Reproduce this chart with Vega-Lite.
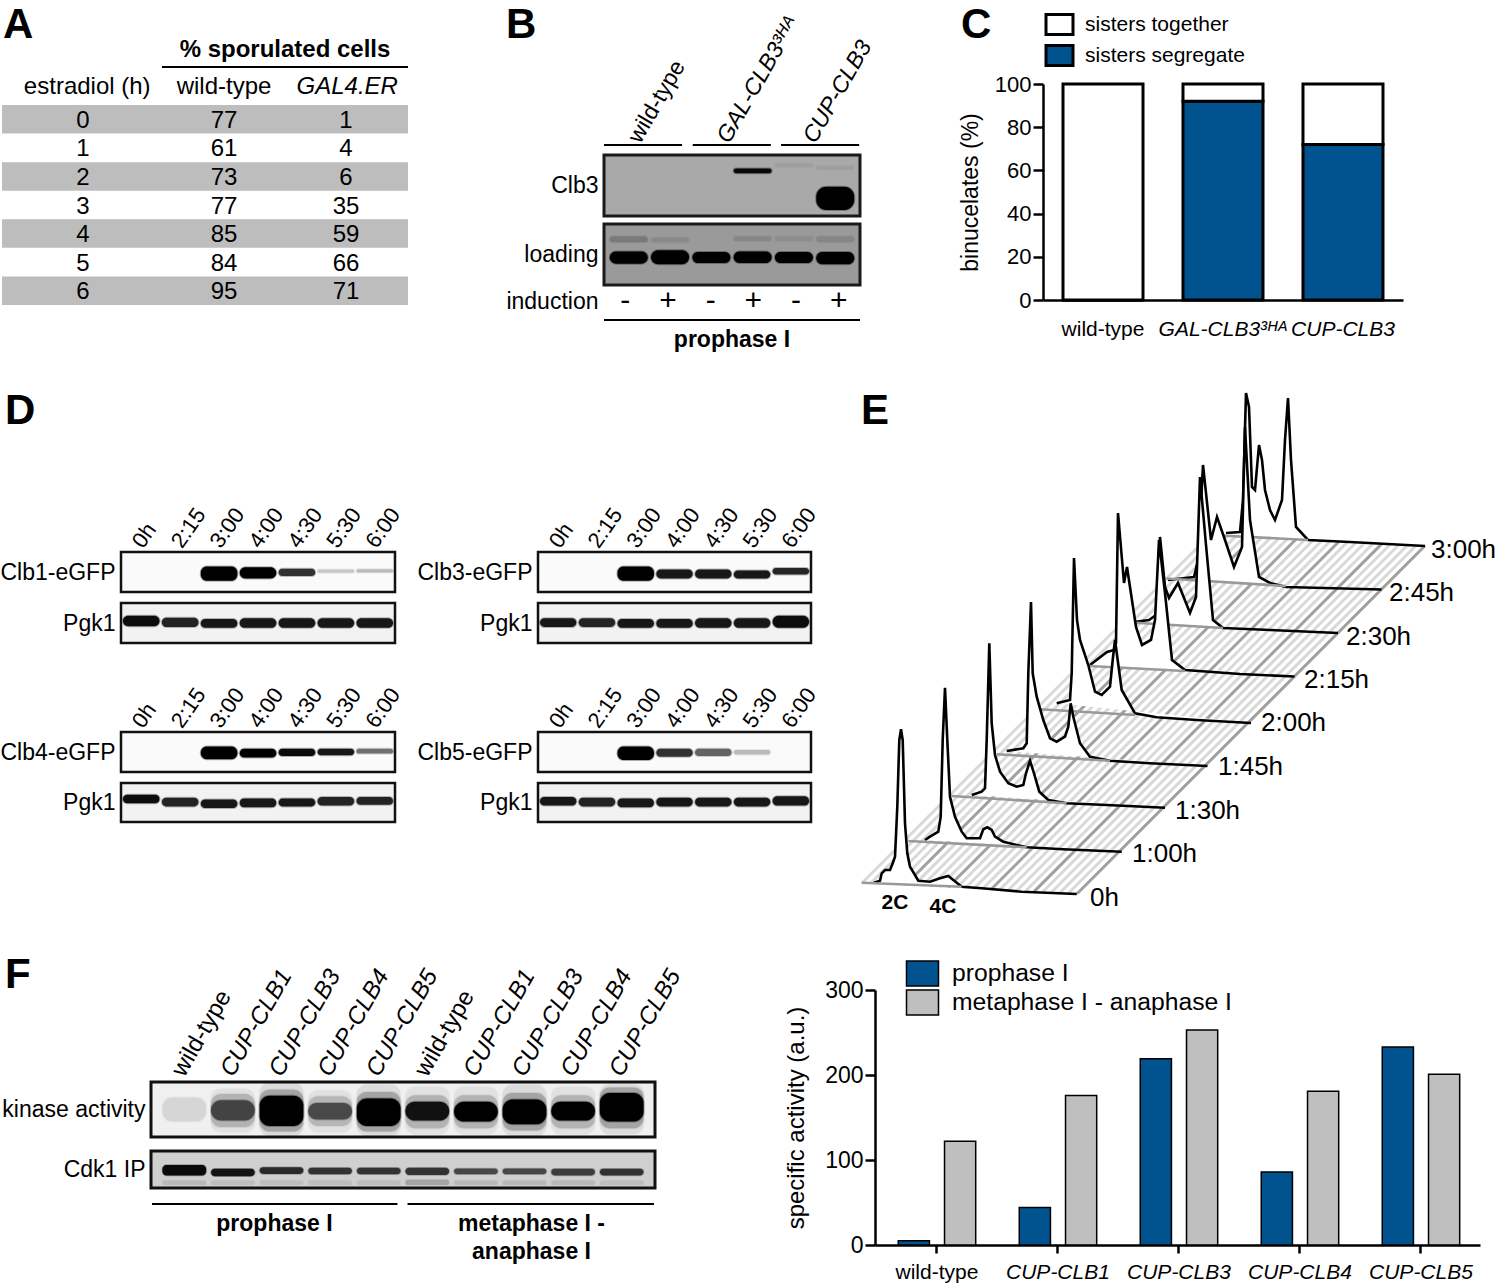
{"$schema":"https://vega.github.io/schema/vega-lite/v6.json","width":1500,"height":1287,"padding":0,"autosize":{"type":"none"},"background":"#ffffff",
"config":{"font":"Liberation Sans, DejaVu Sans","view":{"stroke":null},"axis":{"grid":false,"domain":false,"ticks":false,"labels":false,"labelColor":"#000","titleColor":"#000","titleFontWeight":"normal","domainColor":"#000","tickColor":"#000"},"axisTop":{"labels":true,"labelAngle":-55,"labelAlign":"left","labelBaseline":"middle","labelFontSize":22,"labelPadding":7,"labelOffset":-4},"text":{"color":"#000"}},
"resolve":{"scale":{"x":"independent","y":"independent","color":"independent","stroke":"independent","size":"independent"},"axis":{"x":"independent","y":"independent"},"legend":{"color":"independent"}},
"datasets":{"bands":[
{"track":"Clb1-eGFP","lane":"3:00","top":0.36,"bottom":0.72,"signal":1},{"track":"Clb1-eGFP","lane":"4:00","top":0.38,"bottom":0.66,"signal":1},{"track":"Clb1-eGFP","lane":"4:30","top":0.42,"bottom":0.6,"signal":0.8},{"track":"Clb1-eGFP","lane":"5:30","top":0.44,"bottom":0.52,"signal":0.2},{"track":"Clb1-eGFP","lane":"6:00","top":0.43,"bottom":0.51,"signal":0.25},
{"track":"Clb1-Pgk1","lane":"0h","top":0.32,"bottom":0.58,"signal":0.95},{"track":"Clb1-Pgk1","lane":"2:15","top":0.37,"bottom":0.6,"signal":0.85},{"track":"Clb1-Pgk1","lane":"3:00","top":0.4,"bottom":0.62,"signal":0.9},{"track":"Clb1-Pgk1","lane":"4:00","top":0.38,"bottom":0.62,"signal":0.9},{"track":"Clb1-Pgk1","lane":"4:30","top":0.38,"bottom":0.62,"signal":0.9},{"track":"Clb1-Pgk1","lane":"5:30","top":0.38,"bottom":0.62,"signal":0.9},{"track":"Clb1-Pgk1","lane":"6:00","top":0.38,"bottom":0.62,"signal":0.9},
{"track":"Clb3-eGFP","lane":"3:00","top":0.36,"bottom":0.72,"signal":1},{"track":"Clb3-eGFP","lane":"4:00","top":0.44,"bottom":0.66,"signal":0.9},{"track":"Clb3-eGFP","lane":"4:30","top":0.44,"bottom":0.66,"signal":0.9},{"track":"Clb3-eGFP","lane":"5:30","top":0.46,"bottom":0.66,"signal":0.9},{"track":"Clb3-eGFP","lane":"6:00","top":0.4,"bottom":0.56,"signal":0.85},
{"track":"Clb3-Pgk1","lane":"0h","top":0.38,"bottom":0.6,"signal":0.9},{"track":"Clb3-Pgk1","lane":"2:15","top":0.38,"bottom":0.6,"signal":0.85},{"track":"Clb3-Pgk1","lane":"3:00","top":0.4,"bottom":0.62,"signal":0.9},{"track":"Clb3-Pgk1","lane":"4:00","top":0.4,"bottom":0.62,"signal":0.9},{"track":"Clb3-Pgk1","lane":"4:30","top":0.38,"bottom":0.62,"signal":0.9},{"track":"Clb3-Pgk1","lane":"5:30","top":0.38,"bottom":0.62,"signal":0.9},{"track":"Clb3-Pgk1","lane":"6:00","top":0.32,"bottom":0.62,"signal":0.95},
{"track":"Clb4-eGFP","lane":"3:00","top":0.36,"bottom":0.68,"signal":1},{"track":"Clb4-eGFP","lane":"4:00","top":0.42,"bottom":0.64,"signal":1},{"track":"Clb4-eGFP","lane":"4:30","top":0.42,"bottom":0.6,"signal":0.95},{"track":"Clb4-eGFP","lane":"5:30","top":0.42,"bottom":0.58,"signal":0.9},{"track":"Clb4-eGFP","lane":"6:00","top":0.42,"bottom":0.54,"signal":0.55},
{"track":"Clb4-Pgk1","lane":"0h","top":0.3,"bottom":0.52,"signal":0.95},{"track":"Clb4-Pgk1","lane":"2:15","top":0.38,"bottom":0.6,"signal":0.85},{"track":"Clb4-Pgk1","lane":"3:00","top":0.42,"bottom":0.64,"signal":0.9},{"track":"Clb4-Pgk1","lane":"4:00","top":0.4,"bottom":0.62,"signal":0.9},{"track":"Clb4-Pgk1","lane":"4:30","top":0.4,"bottom":0.6,"signal":0.9},{"track":"Clb4-Pgk1","lane":"5:30","top":0.36,"bottom":0.58,"signal":0.85},{"track":"Clb4-Pgk1","lane":"6:00","top":0.36,"bottom":0.56,"signal":0.85},
{"track":"Clb5-eGFP","lane":"3:00","top":0.36,"bottom":0.7,"signal":1},{"track":"Clb5-eGFP","lane":"4:00","top":0.42,"bottom":0.62,"signal":0.8},{"track":"Clb5-eGFP","lane":"4:30","top":0.42,"bottom":0.6,"signal":0.6},{"track":"Clb5-eGFP","lane":"5:30","top":0.45,"bottom":0.56,"signal":0.25},
{"track":"Clb5-Pgk1","lane":"0h","top":0.36,"bottom":0.58,"signal":0.9},{"track":"Clb5-Pgk1","lane":"2:15","top":0.38,"bottom":0.6,"signal":0.85},{"track":"Clb5-Pgk1","lane":"3:00","top":0.4,"bottom":0.62,"signal":0.9},{"track":"Clb5-Pgk1","lane":"4:00","top":0.38,"bottom":0.6,"signal":0.9},{"track":"Clb5-Pgk1","lane":"4:30","top":0.38,"bottom":0.6,"signal":0.9},{"track":"Clb5-Pgk1","lane":"5:30","top":0.38,"bottom":0.6,"signal":0.9},{"track":"Clb5-Pgk1","lane":"6:00","top":0.34,"bottom":0.58,"signal":0.9},
{"track":"B-Clb3","lane":4,"top":0.22,"bottom":0.3,"signal":0.95},{"track":"B-Clb3","lane":6,"top":0.52,"bottom":0.9,"signal":1},{"track":"B-Clb3","lane":5,"top":0.14,"bottom":0.2,"signal":0.06},{"track":"B-Clb3","lane":6,"top":0.18,"bottom":0.24,"signal":0.06},
{"track":"B-loading","lane":1,"top":0.2,"bottom":0.3,"signal":0.2},{"track":"B-loading","lane":2,"top":0.22,"bottom":0.3,"signal":0.1},{"track":"B-loading","lane":4,"top":0.2,"bottom":0.28,"signal":0.12},{"track":"B-loading","lane":5,"top":0.2,"bottom":0.28,"signal":0.08},{"track":"B-loading","lane":6,"top":0.2,"bottom":0.3,"signal":0.12},
{"track":"B-loading","lane":1,"top":0.45,"bottom":0.65,"signal":1},{"track":"B-loading","lane":2,"top":0.43,"bottom":0.66,"signal":1},{"track":"B-loading","lane":3,"top":0.46,"bottom":0.64,"signal":1},{"track":"B-loading","lane":4,"top":0.45,"bottom":0.64,"signal":1},{"track":"B-loading","lane":5,"top":0.46,"bottom":0.64,"signal":1},{"track":"B-loading","lane":6,"top":0.46,"bottom":0.66,"signal":1},
{"track":"kinase","lane":2,"top":0.12,"bottom":0.92,"signal":0.06},{"track":"kinase","lane":3,"top":0.02,"bottom":0.98,"signal":0.08},{"track":"kinase","lane":4,"top":0.15,"bottom":0.92,"signal":0.06},{"track":"kinase","lane":5,"top":0.05,"bottom":0.98,"signal":0.08},{"track":"kinase","lane":6,"top":0.08,"bottom":0.95,"signal":0.06},{"track":"kinase","lane":7,"top":0.08,"bottom":0.95,"signal":0.06},{"track":"kinase","lane":8,"top":0.05,"bottom":0.98,"signal":0.08},{"track":"kinase","lane":9,"top":0.08,"bottom":0.95,"signal":0.06},{"track":"kinase","lane":10,"top":0.04,"bottom":0.95,"signal":0.08},
{"track":"kinase","lane":2,"top":0.22,"bottom":0.82,"signal":0.2},{"track":"kinase","lane":3,"top":0.14,"bottom":0.9,"signal":0.25},{"track":"kinase","lane":4,"top":0.26,"bottom":0.8,"signal":0.18},{"track":"kinase","lane":5,"top":0.18,"bottom":0.9,"signal":0.25},{"track":"kinase","lane":6,"top":0.24,"bottom":0.84,"signal":0.2},{"track":"kinase","lane":7,"top":0.24,"bottom":0.84,"signal":0.2},{"track":"kinase","lane":8,"top":0.2,"bottom":0.88,"signal":0.25},{"track":"kinase","lane":9,"top":0.24,"bottom":0.84,"signal":0.2},{"track":"kinase","lane":10,"top":0.1,"bottom":0.84,"signal":0.25},
{"track":"kinase","lane":1,"top":0.28,"bottom":0.72,"signal":0.1},{"track":"kinase","lane":2,"top":0.33,"bottom":0.7,"signal":0.62},{"track":"kinase","lane":3,"top":0.25,"bottom":0.8,"signal":1},{"track":"kinase","lane":4,"top":0.38,"bottom":0.68,"signal":0.6},{"track":"kinase","lane":5,"top":0.3,"bottom":0.8,"signal":1},{"track":"kinase","lane":6,"top":0.36,"bottom":0.7,"signal":0.9},{"track":"kinase","lane":7,"top":0.36,"bottom":0.72,"signal":1},{"track":"kinase","lane":8,"top":0.32,"bottom":0.77,"signal":1},{"track":"kinase","lane":9,"top":0.36,"bottom":0.7,"signal":1},{"track":"kinase","lane":10,"top":0.2,"bottom":0.72,"signal":1},
{"track":"cdk1","lane":1,"top":0.38,"bottom":0.66,"signal":0.95},{"track":"cdk1","lane":2,"top":0.48,"bottom":0.68,"signal":0.9},{"track":"cdk1","lane":3,"top":0.44,"bottom":0.62,"signal":0.8},{"track":"cdk1","lane":4,"top":0.45,"bottom":0.63,"signal":0.75},{"track":"cdk1","lane":5,"top":0.45,"bottom":0.63,"signal":0.75},{"track":"cdk1","lane":6,"top":0.45,"bottom":0.65,"signal":0.75},{"track":"cdk1","lane":7,"top":0.47,"bottom":0.63,"signal":0.65},{"track":"cdk1","lane":8,"top":0.47,"bottom":0.63,"signal":0.65},{"track":"cdk1","lane":9,"top":0.48,"bottom":0.66,"signal":0.7},{"track":"cdk1","lane":10,"top":0.48,"bottom":0.66,"signal":0.75},
{"track":"cdk1","lane":1,"top":0.8,"bottom":0.92,"signal":0.1},{"track":"cdk1","lane":2,"top":0.8,"bottom":0.92,"signal":0.08},{"track":"cdk1","lane":3,"top":0.8,"bottom":0.92,"signal":0.08},{"track":"cdk1","lane":4,"top":0.8,"bottom":0.92,"signal":0.08},{"track":"cdk1","lane":5,"top":0.8,"bottom":0.92,"signal":0.08},{"track":"cdk1","lane":6,"top":0.78,"bottom":0.92,"signal":0.2},{"track":"cdk1","lane":7,"top":0.8,"bottom":0.92,"signal":0.1},{"track":"cdk1","lane":8,"top":0.8,"bottom":0.92,"signal":0.1},{"track":"cdk1","lane":9,"top":0.8,"bottom":0.92,"signal":0.1},{"track":"cdk1","lane":10,"top":0.8,"bottom":0.92,"signal":0.08}
]},
"layer":[
{"data":{"values":[{"row":"0"},{"row":"2"},{"row":"4"},{"row":"6"}]},"mark":{"type":"rect","fill":"#bdbdbd"},"encoding":{"x":{"datum":0,"type":"quantitative","scale":{"domain":[0,1],"range":[2,408]},"axis":null},"x2":{"datum":1},"y":{"field":"row","type":"nominal","scale":{"type":"band","domain":["0","1","2","3","4","5","6"],"range":[105,305],"padding":0},"axis":null}}},
{"data":{"values":[{"row":"0","col":0,"val":"0"},{"row":"0","col":1,"val":"77"},{"row":"0","col":2,"val":"1"},{"row":"1","col":0,"val":"1"},{"row":"1","col":1,"val":"61"},{"row":"1","col":2,"val":"4"},{"row":"2","col":0,"val":"2"},{"row":"2","col":1,"val":"73"},{"row":"2","col":2,"val":"6"},{"row":"3","col":0,"val":"3"},{"row":"3","col":1,"val":"77"},{"row":"3","col":2,"val":"35"},{"row":"4","col":0,"val":"4"},{"row":"4","col":1,"val":"85"},{"row":"4","col":2,"val":"59"},{"row":"5","col":0,"val":"5"},{"row":"5","col":1,"val":"84"},{"row":"5","col":2,"val":"66"},{"row":"6","col":0,"val":"6"},{"row":"6","col":1,"val":"95"},{"row":"6","col":2,"val":"71"}]},"mark":{"type":"text","fontSize":24,"dy":1.5},"encoding":{"x":{"field":"col","type":"quantitative","scale":{"domain":[0,1,2],"range":[83,224,346]},"axis":null},"y":{"field":"row","type":"nominal","scale":{"type":"band","domain":["0","1","2","3","4","5","6"],"range":[105,305],"padding":0},"axis":null},"text":{"field":"val"}}},
{"data":{"values":[{"label":"% sporulated cells","col":1.5,"end":1.5,"level":0,"kind":"bold"},{"label":"estradiol (h)","col":0.03,"end":0.03,"level":1,"kind":"plain"},{"label":"wild-type","col":1,"end":1,"level":1,"kind":"plain"},{"label":"GAL4.ER","col":2.01,"end":2.01,"level":1,"kind":"italic"},{"label":"","col":0.56,"end":2.508,"level":0.486,"kind":"rule"}]},"encoding":{"x":{"field":"col","type":"quantitative","scale":{"domain":[0,1,2],"range":[83,224,346]},"axis":null},"y":{"field":"level","type":"quantitative","scale":{"domain":[0,1],"range":[49,86]},"axis":null}},"layer":[
{"transform":[{"filter":"datum.kind=='bold'"}],"mark":{"type":"text","fontSize":24,"fontWeight":"bold","dy":1},"encoding":{"text":{"field":"label"}}},
{"transform":[{"filter":"datum.kind=='plain'"}],"mark":{"type":"text","fontSize":24,"dy":1},"encoding":{"text":{"field":"label"}}},
{"transform":[{"filter":"datum.kind=='italic'"}],"mark":{"type":"text","fontSize":24,"fontStyle":"italic","dy":1},"encoding":{"text":{"field":"label"}}},
{"transform":[{"filter":"datum.kind=='rule'"}],"mark":{"type":"rule","color":"#000","strokeWidth":2},"encoding":{"x2":{"field":"end"}}}]},

{"data":{"values":[{"group":"wild-type","pos":0.87,"from":0,"to":1.83},{"group":"GAL-CLB3³ᴴᴬ","pos":2.95,"from":2.08,"to":3.91},{"group":"CUP-CLB3","pos":4.97,"from":4.15,"to":5.98}]},"encoding":{"x":{"field":"from","type":"quantitative","scale":{"domain":[0,6],"range":[604,860]},"axis":null},"y":{"datum":0,"type":"quantitative","scale":{"domain":[0,1],"range":[145,146]},"axis":null}},"layer":[
{"mark":{"type":"rule","color":"#000","strokeWidth":2},"encoding":{"x2":{"field":"to"}}},
{"transform":[{"filter":"datum.group=='wild-type'"}],"mark":{"type":"text","fontSize":23,"angle":-60,"align":"left","baseline":"middle","dy":-8},"encoding":{"x":{"field":"pos","type":"quantitative","scale":{"domain":[0,6],"range":[604,860]},"axis":null},"text":{"field":"group"}}},
{"transform":[{"filter":"datum.group!='wild-type'"}],"mark":{"type":"text","fontSize":23,"fontStyle":"italic","angle":-60,"align":"left","baseline":"middle","dy":-8},"encoding":{"x":{"field":"pos","type":"quantitative","scale":{"domain":[0,6],"range":[604,860]},"axis":null},"text":{"field":"group"}}}]},
{"data":{"values":[{"track":"Clb3"}]},"mark":{"type":"rect","fill":"#a9a9a9","stroke":"#1a1a1a","strokeWidth":3},"encoding":{"x":{"datum":0,"type":"quantitative","scale":{"domain":[0,1],"range":[604,860]},"axis":null},"x2":{"datum":1},"y":{"datum":0,"type":"quantitative","scale":{"domain":[0,1],"range":[155,216]},"axis":{"orient":"left","offset":-604,"title":"Clb3","titleAngle":0,"titleAlign":"right","titleBaseline":"middle","titlePadding":6,"titleFontSize":23}},"y2":{"datum":1}}},
{"data":{"name":"bands"},"transform":[{"filter":"datum.track=='B-Clb3'"}],"mark":{"type":"bar","fill":"#000","stroke":"#000","strokeWidth":2,"strokeOpacity":0.3,"cornerRadius":10},"encoding":{"x":{"field":"lane","type":"nominal","scale":{"domain":[1,2,3,4,5,6],"range":[604,860],"paddingInner":0.08,"paddingOuter":0.14},"axis":null},"y":{"field":"top","type":"quantitative","scale":{"domain":[0,1],"range":[155,216]},"axis":null},"y2":{"field":"bottom"},"opacity":{"field":"signal","type":"quantitative","scale":null}}},
{"data":{"values":[{"track":"loading"}]},"mark":{"type":"rect","fill":"#9a9a9a","stroke":"#1a1a1a","strokeWidth":3},"encoding":{"x":{"datum":0,"type":"quantitative","scale":{"domain":[0,1],"range":[604,860]},"axis":null},"x2":{"datum":1},"y":{"datum":0,"type":"quantitative","scale":{"domain":[0,1],"range":[224,285]},"axis":{"orient":"left","offset":-604,"title":"loading","titleAngle":0,"titleAlign":"right","titleBaseline":"middle","titlePadding":6,"titleFontSize":23}},"y2":{"datum":1}}},
{"data":{"name":"bands"},"transform":[{"filter":"datum.track=='B-loading'"}],"mark":{"type":"bar","fill":"#000","stroke":"#000","strokeWidth":2,"strokeOpacity":0.3,"cornerRadius":8},"encoding":{"x":{"field":"lane","type":"nominal","scale":{"domain":[1,2,3,4,5,6],"range":[604,860],"paddingInner":0.08,"paddingOuter":0.14},"axis":null},"y":{"field":"top","type":"quantitative","scale":{"domain":[0,1],"range":[224,285]},"axis":null},"y2":{"field":"bottom"},"opacity":{"field":"signal","type":"quantitative","scale":null}}},
{"data":{"values":[{"lane":1,"sign":"-"},{"lane":2,"sign":"+"},{"lane":3,"sign":"-"},{"lane":4,"sign":"+"},{"lane":5,"sign":"-"},{"lane":6,"sign":"+"}]},"mark":{"type":"text","fontSize":30},"encoding":{"x":{"field":"lane","type":"nominal","scale":{"domain":[1,2,3,4,5,6],"range":[604,860],"paddingInner":0.08,"paddingOuter":0.14},"axis":null},"y":{"datum":0.5,"type":"quantitative","scale":{"domain":[0,1],"range":[291,311]},"axis":{"orient":"left","offset":-604,"title":"induction","titleAngle":0,"titleAlign":"right","titleBaseline":"middle","titlePadding":6,"titleFontSize":23}},"text":{"field":"sign"}}},
{"data":{"values":[{"stage":"prophase I"}]},"encoding":{"x":{"datum":0.5,"type":"quantitative","scale":{"domain":[0,1],"range":[604,860]},"axis":null},"y":{"datum":0,"type":"quantitative","scale":{"domain":[0,1],"range":[320,340]},"axis":null}},"layer":[
{"mark":{"type":"rule","color":"#000","strokeWidth":2},"encoding":{"x":{"datum":0,"type":"quantitative","scale":{"domain":[0,1],"range":[604,860]},"axis":null},"x2":{"datum":1}}},
{"mark":{"type":"text","fontSize":23,"fontWeight":"bold"},"encoding":{"y":{"datum":1,"type":"quantitative","scale":{"domain":[0,1],"range":[320,340]},"axis":null},"text":{"field":"stage"}}}]},

{"data":{"values":[{"genotype":"wild-type","status":"sisters segregate","pct":0,"rank":1},{"genotype":"wild-type","status":"sisters together","pct":100,"rank":2},{"genotype":"GAL-CLB3³ᴴᴬ","status":"sisters segregate","pct":92,"rank":1},{"genotype":"GAL-CLB3³ᴴᴬ","status":"sisters together","pct":8,"rank":2},{"genotype":"CUP-CLB3","status":"sisters segregate","pct":72,"rank":1},{"genotype":"CUP-CLB3","status":"sisters together","pct":28,"rank":2}]},"mark":{"type":"bar","stroke":"#000","strokeWidth":3},"encoding":{"x":{"field":"genotype","type":"nominal","sort":null,"scale":{"domain":["wild-type","GAL-CLB3³ᴴᴬ","CUP-CLB3"],"range":[1043,1403],"paddingInner":0.3333,"paddingOuter":0.1667},"axis":{"orient":"bottom","offset":-987,"title":null,"labels":true,"domain":true,"domainWidth":2.5,"labelAngle":0,"labelFontSize":21,"labelPadding":18,"labelFontStyle":{"condition":{"test":"datum.value=='wild-type'","value":"normal"},"value":"italic"}}},"y":{"field":"pct","type":"quantitative","stack":"zero","scale":{"domain":[0,100],"range":[300,84]},"axis":{"orient":"left","offset":-1043,"title":"binucelates (%)","titleFontSize":23,"titlePadding":12,"labels":true,"labelFontSize":22,"domain":true,"domainWidth":2.5,"ticks":true,"tickWidth":2.5,"tickSize":10,"values":[0,20,40,60,80,100]}},"order":{"field":"rank"},"color":{"field":"status","type":"nominal","scale":{"domain":["sisters together","sisters segregate"],"range":["#ffffff","#00538f"]},"legend":{"orient":"none","legendX":1048,"legendY":13,"title":null,"labelFontSize":21,"labelColor":"#000","symbolType":"M-1.35,-1H1.35V1H-1.35Z","symbolSize":400,"symbolStrokeColor":"#000","symbolStrokeWidth":3,"rowPadding":-2,"labelOffset":14}}}},

{"data":{"values":[{"t":"Clb1-eGFP"}]},"mark":{"type":"rect","fill":"#fafafa","stroke":"#111","strokeWidth":2.5},"encoding":{"x":{"datum":0,"type":"quantitative","scale":{"domain":[0,1],"range":[121,395]},"axis":null},"x2":{"datum":1},"y":{"datum":0,"type":"quantitative","scale":{"domain":[0,1],"range":[552,592]},"axis":{"orient":"left","offset":-121,"title":"Clb1-eGFP","titleAngle":0,"titleAlign":"right","titleBaseline":"middle","titlePadding":6,"titleFontSize":23}},"y2":{"datum":1}}},
{"data":{"name":"bands"},"transform":[{"filter":"datum.track=='Clb1-eGFP'"}],"mark":{"type":"bar","fill":"#000","stroke":"#000","strokeWidth":2,"strokeOpacity":0.3,"cornerRadius":6},"encoding":{"x":{"field":"lane","type":"nominal","scale":{"domain":["0h","2:15","3:00","4:00","4:30","5:30","6:00"],"range":[121,395],"paddingInner":0.06,"paddingOuter":0.05},"axis":{"orient":"top","offset":-552,"title":null}},"y":{"field":"top","type":"quantitative","scale":{"domain":[0,1],"range":[552,592]},"axis":null},"y2":{"field":"bottom"},"opacity":{"field":"signal","type":"quantitative","scale":null}}},
{"data":{"values":[{"t":"Pgk1"}]},"mark":{"type":"rect","fill":"#f2f2f2","stroke":"#111","strokeWidth":2.5},"encoding":{"x":{"datum":0,"type":"quantitative","scale":{"domain":[0,1],"range":[121,395]},"axis":null},"x2":{"datum":1},"y":{"datum":0,"type":"quantitative","scale":{"domain":[0,1],"range":[603,643]},"axis":{"orient":"left","offset":-121,"title":"Pgk1","titleAngle":0,"titleAlign":"right","titleBaseline":"middle","titlePadding":6,"titleFontSize":23}},"y2":{"datum":1}}},
{"data":{"name":"bands"},"transform":[{"filter":"datum.track=='Clb1-Pgk1'"}],"mark":{"type":"bar","fill":"#000","stroke":"#000","strokeWidth":2,"strokeOpacity":0.3,"cornerRadius":6},"encoding":{"x":{"field":"lane","type":"nominal","scale":{"domain":["0h","2:15","3:00","4:00","4:30","5:30","6:00"],"range":[121,395],"paddingInner":0.06,"paddingOuter":0.05},"axis":null},"y":{"field":"top","type":"quantitative","scale":{"domain":[0,1],"range":[603,643]},"axis":null},"y2":{"field":"bottom"},"opacity":{"field":"signal","type":"quantitative","scale":null}}},
{"data":{"values":[{"t":"Clb3-eGFP"}]},"mark":{"type":"rect","fill":"#fafafa","stroke":"#111","strokeWidth":2.5},"encoding":{"x":{"datum":0,"type":"quantitative","scale":{"domain":[0,1],"range":[538,811]},"axis":null},"x2":{"datum":1},"y":{"datum":0,"type":"quantitative","scale":{"domain":[0,1],"range":[552,592]},"axis":{"orient":"left","offset":-538,"title":"Clb3-eGFP","titleAngle":0,"titleAlign":"right","titleBaseline":"middle","titlePadding":6,"titleFontSize":23}},"y2":{"datum":1}}},
{"data":{"name":"bands"},"transform":[{"filter":"datum.track=='Clb3-eGFP'"}],"mark":{"type":"bar","fill":"#000","stroke":"#000","strokeWidth":2,"strokeOpacity":0.3,"cornerRadius":6},"encoding":{"x":{"field":"lane","type":"nominal","scale":{"domain":["0h","2:15","3:00","4:00","4:30","5:30","6:00"],"range":[538,811],"paddingInner":0.06,"paddingOuter":0.05},"axis":{"orient":"top","offset":-552,"title":null}},"y":{"field":"top","type":"quantitative","scale":{"domain":[0,1],"range":[552,592]},"axis":null},"y2":{"field":"bottom"},"opacity":{"field":"signal","type":"quantitative","scale":null}}},
{"data":{"values":[{"t":"Pgk1"}]},"mark":{"type":"rect","fill":"#f2f2f2","stroke":"#111","strokeWidth":2.5},"encoding":{"x":{"datum":0,"type":"quantitative","scale":{"domain":[0,1],"range":[538,811]},"axis":null},"x2":{"datum":1},"y":{"datum":0,"type":"quantitative","scale":{"domain":[0,1],"range":[603,643]},"axis":{"orient":"left","offset":-538,"title":"Pgk1","titleAngle":0,"titleAlign":"right","titleBaseline":"middle","titlePadding":6,"titleFontSize":23}},"y2":{"datum":1}}},
{"data":{"name":"bands"},"transform":[{"filter":"datum.track=='Clb3-Pgk1'"}],"mark":{"type":"bar","fill":"#000","stroke":"#000","strokeWidth":2,"strokeOpacity":0.3,"cornerRadius":6},"encoding":{"x":{"field":"lane","type":"nominal","scale":{"domain":["0h","2:15","3:00","4:00","4:30","5:30","6:00"],"range":[538,811],"paddingInner":0.06,"paddingOuter":0.05},"axis":null},"y":{"field":"top","type":"quantitative","scale":{"domain":[0,1],"range":[603,643]},"axis":null},"y2":{"field":"bottom"},"opacity":{"field":"signal","type":"quantitative","scale":null}}},
{"data":{"values":[{"t":"Clb4-eGFP"}]},"mark":{"type":"rect","fill":"#fafafa","stroke":"#111","strokeWidth":2.5},"encoding":{"x":{"datum":0,"type":"quantitative","scale":{"domain":[0,1],"range":[121,395]},"axis":null},"x2":{"datum":1},"y":{"datum":0,"type":"quantitative","scale":{"domain":[0,1],"range":[732,772]},"axis":{"orient":"left","offset":-121,"title":"Clb4-eGFP","titleAngle":0,"titleAlign":"right","titleBaseline":"middle","titlePadding":6,"titleFontSize":23}},"y2":{"datum":1}}},
{"data":{"name":"bands"},"transform":[{"filter":"datum.track=='Clb4-eGFP'"}],"mark":{"type":"bar","fill":"#000","stroke":"#000","strokeWidth":2,"strokeOpacity":0.3,"cornerRadius":6},"encoding":{"x":{"field":"lane","type":"nominal","scale":{"domain":["0h","2:15","3:00","4:00","4:30","5:30","6:00"],"range":[121,395],"paddingInner":0.06,"paddingOuter":0.05},"axis":{"orient":"top","offset":-732,"title":null}},"y":{"field":"top","type":"quantitative","scale":{"domain":[0,1],"range":[732,772]},"axis":null},"y2":{"field":"bottom"},"opacity":{"field":"signal","type":"quantitative","scale":null}}},
{"data":{"values":[{"t":"Pgk1"}]},"mark":{"type":"rect","fill":"#f2f2f2","stroke":"#111","strokeWidth":2.5},"encoding":{"x":{"datum":0,"type":"quantitative","scale":{"domain":[0,1],"range":[121,395]},"axis":null},"x2":{"datum":1},"y":{"datum":0,"type":"quantitative","scale":{"domain":[0,1],"range":[783,822]},"axis":{"orient":"left","offset":-121,"title":"Pgk1","titleAngle":0,"titleAlign":"right","titleBaseline":"middle","titlePadding":6,"titleFontSize":23}},"y2":{"datum":1}}},
{"data":{"name":"bands"},"transform":[{"filter":"datum.track=='Clb4-Pgk1'"}],"mark":{"type":"bar","fill":"#000","stroke":"#000","strokeWidth":2,"strokeOpacity":0.3,"cornerRadius":6},"encoding":{"x":{"field":"lane","type":"nominal","scale":{"domain":["0h","2:15","3:00","4:00","4:30","5:30","6:00"],"range":[121,395],"paddingInner":0.06,"paddingOuter":0.05},"axis":null},"y":{"field":"top","type":"quantitative","scale":{"domain":[0,1],"range":[783,822]},"axis":null},"y2":{"field":"bottom"},"opacity":{"field":"signal","type":"quantitative","scale":null}}},
{"data":{"values":[{"t":"Clb5-eGFP"}]},"mark":{"type":"rect","fill":"#fafafa","stroke":"#111","strokeWidth":2.5},"encoding":{"x":{"datum":0,"type":"quantitative","scale":{"domain":[0,1],"range":[538,811]},"axis":null},"x2":{"datum":1},"y":{"datum":0,"type":"quantitative","scale":{"domain":[0,1],"range":[732,772]},"axis":{"orient":"left","offset":-538,"title":"Clb5-eGFP","titleAngle":0,"titleAlign":"right","titleBaseline":"middle","titlePadding":6,"titleFontSize":23}},"y2":{"datum":1}}},
{"data":{"name":"bands"},"transform":[{"filter":"datum.track=='Clb5-eGFP'"}],"mark":{"type":"bar","fill":"#000","stroke":"#000","strokeWidth":2,"strokeOpacity":0.3,"cornerRadius":6},"encoding":{"x":{"field":"lane","type":"nominal","scale":{"domain":["0h","2:15","3:00","4:00","4:30","5:30","6:00"],"range":[538,811],"paddingInner":0.06,"paddingOuter":0.05},"axis":{"orient":"top","offset":-732,"title":null}},"y":{"field":"top","type":"quantitative","scale":{"domain":[0,1],"range":[732,772]},"axis":null},"y2":{"field":"bottom"},"opacity":{"field":"signal","type":"quantitative","scale":null}}},
{"data":{"values":[{"t":"Pgk1"}]},"mark":{"type":"rect","fill":"#f2f2f2","stroke":"#111","strokeWidth":2.5},"encoding":{"x":{"datum":0,"type":"quantitative","scale":{"domain":[0,1],"range":[538,811]},"axis":null},"x2":{"datum":1},"y":{"datum":0,"type":"quantitative","scale":{"domain":[0,1],"range":[783,822]},"axis":{"orient":"left","offset":-538,"title":"Pgk1","titleAngle":0,"titleAlign":"right","titleBaseline":"middle","titlePadding":6,"titleFontSize":23}},"y2":{"datum":1}}},
{"data":{"name":"bands"},"transform":[{"filter":"datum.track=='Clb5-Pgk1'"}],"mark":{"type":"bar","fill":"#000","stroke":"#000","strokeWidth":2,"strokeOpacity":0.3,"cornerRadius":6},"encoding":{"x":{"field":"lane","type":"nominal","scale":{"domain":["0h","2:15","3:00","4:00","4:30","5:30","6:00"],"range":[538,811],"paddingInner":0.06,"paddingOuter":0.05},"axis":null},"y":{"field":"top","type":"quantitative","scale":{"domain":[0,1],"range":[783,822]},"axis":null},"y2":{"field":"bottom"},"opacity":{"field":"signal","type":"quantitative","scale":null}}},

{"data":{"values":[{"d":0,"kind":"minor","a":12,"b":360,"c":67,"e":415},{"d":8.6,"kind":"minor","a":20.6,"b":368.6,"c":66.6,"e":414.6},{"d":17.2,"kind":"minor","a":29.2,"b":377.2,"c":66.1,"e":414.1},{"d":25.8,"kind":"minor","a":37.8,"b":385.8,"c":65.7,"e":413.7},{"d":34.4,"kind":"minor","a":46.4,"b":394.4,"c":65.3,"e":413.3},{"d":43,"kind":"major","a":55,"b":403,"c":64.8,"e":412.8},{"d":51.6,"kind":"minor","a":63.6,"b":411.6,"c":64.4,"e":412.4},{"d":60.2,"kind":"minor","a":72.2,"b":420.2,"c":64,"e":412},{"d":68.8,"kind":"minor","a":80.8,"b":428.8,"c":63.6,"e":411.6},{"d":77.4,"kind":"minor","a":89.4,"b":437.4,"c":63.1,"e":411.1},{"d":86,"kind":"major","a":98,"b":446,"c":62.7,"e":410.7},{"d":94.6,"kind":"minor","a":106.6,"b":454.6,"c":62.3,"e":410.3},{"d":103.2,"kind":"minor","a":115.2,"b":463.2,"c":61.8,"e":409.8},{"d":111.8,"kind":"minor","a":123.8,"b":471.8,"c":61.4,"e":409.4},{"d":120.4,"kind":"minor","a":132.4,"b":480.4,"c":61,"e":409},{"d":129,"kind":"major","a":141,"b":489,"c":60.5,"e":408.5},{"d":137.6,"kind":"minor","a":149.6,"b":497.6,"c":60.1,"e":408.1},{"d":146.2,"kind":"minor","a":158.2,"b":506.2,"c":59.7,"e":407.7},{"d":154.8,"kind":"minor","a":166.8,"b":514.8,"c":59.3,"e":407.3},{"d":163.4,"kind":"minor","a":175.4,"b":523.4,"c":58.8,"e":406.8},{"d":172,"kind":"major","a":184,"b":532,"c":58.4,"e":406.4},{"d":180.6,"kind":"minor","a":192.6,"b":540.6,"c":58,"e":406},{"d":189.2,"kind":"minor","a":201.2,"b":549.2,"c":57.5,"e":405.5},{"d":197.8,"kind":"minor","a":209.8,"b":557.8,"c":57.1,"e":405.1},{"d":206.4,"kind":"minor","a":218.4,"b":566.4,"c":56.7,"e":404.7},{"d":215,"kind":"major","a":227,"b":575,"c":56.2,"e":404.2}]},"mark":{"type":"rule","strokeWidth":3},"encoding":{"x":{"field":"a","type":"quantitative","scale":{"domain":[0,650],"range":[850,1500]},"axis":null},"x2":{"field":"b"},"y":{"field":"c","type":"quantitative","scale":{"domain":[0,590],"range":[950,360]},"axis":null},"y2":{"field":"e"},"stroke":{"field":"kind","type":"nominal","scale":{"domain":["minor","major"],"range":["#d9d9d9","#a0a0a0"]},"legend":null}}},
{"data":{"values":[
{"g":"t8","kind":"trace","x":376,"y":417},{"g":"t8","kind":"trace","x":390,"y":418},{"g":"t8","kind":"trace","x":393,"y":450},{"g":"t8","kind":"trace","x":396,"y":557},{"g":"t8","kind":"trace","x":399,"y":543},{"g":"t8","kind":"trace","x":402,"y":463},{"g":"t8","kind":"trace","x":405,"y":460},{"g":"t8","kind":"trace","x":409,"y":505},{"g":"t8","kind":"trace","x":412,"y":490},{"g":"t8","kind":"trace","x":415,"y":460},{"g":"t8","kind":"trace","x":420,"y":440},{"g":"t8","kind":"trace","x":425,"y":430},{"g":"t8","kind":"trace","x":432,"y":450},{"g":"t8","kind":"trace","x":435,"y":510},{"g":"t8","kind":"trace","x":438,"y":552},{"g":"t8","kind":"trace","x":441,"y":490},{"g":"t8","kind":"trace","x":446,"y":423},{"g":"t8","kind":"trace","x":458,"y":410},{"g":"t8","kind":"trace","x":500,"y":408},{"g":"t8","kind":"trace","x":575,"y":404},
{"g":"a8","kind":"axis","x":360,"y":415},{"g":"a8","kind":"axis","x":458,"y":410},
{"g":"t7","kind":"trace","x":318,"y":370},{"g":"t7","kind":"trace","x":344,"y":373},{"g":"t7","kind":"trace","x":348,"y":390},{"g":"t7","kind":"trace","x":353,"y":485},{"g":"t7","kind":"trace","x":361,"y":410},{"g":"t7","kind":"trace","x":367,"y":433},{"g":"t7","kind":"trace","x":375,"y":410},{"g":"t7","kind":"trace","x":384,"y":383},{"g":"t7","kind":"trace","x":392,"y":403},{"g":"t7","kind":"trace","x":395,"y":523},{"g":"t7","kind":"trace","x":400,"y":430},{"g":"t7","kind":"trace","x":409,"y":373},{"g":"t7","kind":"trace","x":420,"y":367},{"g":"t7","kind":"trace","x":436,"y":363},{"g":"t7","kind":"trace","x":531.5,"y":360.5},
{"g":"a7","kind":"axis","x":316.5,"y":371.5},{"g":"a7","kind":"axis","x":436,"y":364},
{"g":"t6","kind":"trace","x":284,"y":328},{"g":"t6","kind":"trace","x":299,"y":330},{"g":"t6","kind":"trace","x":306,"y":335},{"g":"t6","kind":"trace","x":308,"y":350},{"g":"t6","kind":"trace","x":310,"y":413},{"g":"t6","kind":"trace","x":315,"y":363},{"g":"t6","kind":"trace","x":319,"y":352},{"g":"t6","kind":"trace","x":328,"y":367},{"g":"t6","kind":"trace","x":340,"y":337},{"g":"t6","kind":"trace","x":346,"y":353},{"g":"t6","kind":"trace","x":350,"y":473},{"g":"t6","kind":"trace","x":356,"y":405},{"g":"t6","kind":"trace","x":363,"y":330},{"g":"t6","kind":"trace","x":373,"y":322},{"g":"t6","kind":"trace","x":420,"y":320},{"g":"t6","kind":"trace","x":488,"y":317},
{"g":"a6","kind":"axis","x":273,"y":328},{"g":"a6","kind":"axis","x":373,"y":322},
{"g":"t5","kind":"trace","x":240,"y":285},{"g":"t5","kind":"trace","x":257,"y":298},{"g":"t5","kind":"trace","x":264,"y":300},{"g":"t5","kind":"trace","x":266,"y":307},{"g":"t5","kind":"trace","x":268,"y":437},{"g":"t5","kind":"trace","x":274,"y":367},{"g":"t5","kind":"trace","x":277,"y":383},{"g":"t5","kind":"trace","x":286,"y":323},{"g":"t5","kind":"trace","x":292,"y":305},{"g":"t5","kind":"trace","x":301,"y":310},{"g":"t5","kind":"trace","x":305,"y":330},{"g":"t5","kind":"trace","x":309,"y":410},{"g":"t5","kind":"trace","x":315,"y":357},{"g":"t5","kind":"trace","x":322,"y":290},{"g":"t5","kind":"trace","x":335,"y":280},{"g":"t5","kind":"trace","x":390,"y":276},{"g":"t5","kind":"trace","x":444.5,"y":273.5},
{"g":"a5","kind":"axis","x":229.5,"y":284.5},{"g":"a5","kind":"axis","x":335,"y":279},
{"g":"t4","kind":"trace","x":206.7,"y":246.7},{"g":"t4","kind":"trace","x":220,"y":250},{"g":"t4","kind":"trace","x":221.7,"y":276.7},{"g":"t4","kind":"trace","x":224,"y":392},{"g":"t4","kind":"trace","x":227,"y":330},{"g":"t4","kind":"trace","x":230,"y":310},{"g":"t4","kind":"trace","x":238.3,"y":285},{"g":"t4","kind":"trace","x":245,"y":258.3},{"g":"t4","kind":"trace","x":251.7,"y":255},{"g":"t4","kind":"trace","x":260,"y":263.3},{"g":"t4","kind":"trace","x":262.7,"y":290},{"g":"t4","kind":"trace","x":265,"y":310},{"g":"t4","kind":"trace","x":271.7,"y":260},{"g":"t4","kind":"trace","x":285,"y":236.7},{"g":"t4","kind":"trace","x":306.7,"y":232.7},{"g":"t4","kind":"trace","x":346.7,"y":230},{"g":"t4","kind":"trace","x":401,"y":227},
{"g":"a4","kind":"axis","x":186,"y":241},{"g":"a4","kind":"axis","x":285,"y":235},
{"g":"t3","kind":"trace","x":156.7,"y":199},{"g":"t3","kind":"trace","x":173.3,"y":201.7},{"g":"t3","kind":"trace","x":176.7,"y":206.7},{"g":"t3","kind":"trace","x":178.3,"y":276.7},{"g":"t3","kind":"trace","x":181,"y":348},{"g":"t3","kind":"trace","x":182.7,"y":276.7},{"g":"t3","kind":"trace","x":186.7,"y":253.3},{"g":"t3","kind":"trace","x":193.3,"y":230},{"g":"t3","kind":"trace","x":200,"y":211.7},{"g":"t3","kind":"trace","x":206.7,"y":208.3},{"g":"t3","kind":"trace","x":215,"y":213.3},{"g":"t3","kind":"trace","x":218.3,"y":223.3},{"g":"t3","kind":"trace","x":220.7,"y":246.7},{"g":"t3","kind":"trace","x":223.3,"y":233.3},{"g":"t3","kind":"trace","x":230,"y":206.7},{"g":"t3","kind":"trace","x":240,"y":193.3},{"g":"t3","kind":"trace","x":260,"y":189.3},{"g":"t3","kind":"trace","x":300,"y":186.7},{"g":"t3","kind":"trace","x":357.5,"y":184},
{"g":"a3","kind":"axis","x":146.7,"y":195.7},{"g":"a3","kind":"axis","x":260,"y":189.3},
{"g":"t2","kind":"trace","x":121.7,"y":155},{"g":"t2","kind":"trace","x":131.7,"y":158.3},{"g":"t2","kind":"trace","x":135,"y":161.7},{"g":"t2","kind":"trace","x":136.7,"y":210},{"g":"t2","kind":"trace","x":139.3,"y":306.7},{"g":"t2","kind":"trace","x":141.7,"y":226.7},{"g":"t2","kind":"trace","x":145,"y":195},{"g":"t2","kind":"trace","x":150,"y":178.3},{"g":"t2","kind":"trace","x":158.3,"y":166.7},{"g":"t2","kind":"trace","x":166.7,"y":163.3},{"g":"t2","kind":"trace","x":173.3,"y":165},{"g":"t2","kind":"trace","x":176,"y":176.7},{"g":"t2","kind":"trace","x":180,"y":189.3},{"g":"t2","kind":"trace","x":184,"y":176.7},{"g":"t2","kind":"trace","x":189.3,"y":158.3},{"g":"t2","kind":"trace","x":198.3,"y":150},{"g":"t2","kind":"trace","x":216.7,"y":146.7},{"g":"t2","kind":"trace","x":256.7,"y":145},{"g":"t2","kind":"trace","x":315,"y":142.3},
{"g":"a2","kind":"axis","x":101.7,"y":154},{"g":"a2","kind":"axis","x":216.7,"y":146.7},
{"g":"t1","kind":"trace","x":75,"y":110},{"g":"t1","kind":"trace","x":80,"y":113.3},{"g":"t1","kind":"trace","x":88.3,"y":118.3},{"g":"t1","kind":"trace","x":90.7,"y":133.3},{"g":"t1","kind":"trace","x":92.7,"y":210},{"g":"t1","kind":"trace","x":95,"y":262.3},{"g":"t1","kind":"trace","x":97.3,"y":210},{"g":"t1","kind":"trace","x":100,"y":153.3},{"g":"t1","kind":"trace","x":105,"y":133.3},{"g":"t1","kind":"trace","x":111.7,"y":118.3},{"g":"t1","kind":"trace","x":116.7,"y":111.7},{"g":"t1","kind":"trace","x":130,"y":111.7},{"g":"t1","kind":"trace","x":133.3,"y":120.7},{"g":"t1","kind":"trace","x":137.3,"y":122.7},{"g":"t1","kind":"trace","x":141.7,"y":120},{"g":"t1","kind":"trace","x":145,"y":113.3},{"g":"t1","kind":"trace","x":153.3,"y":108.3},{"g":"t1","kind":"trace","x":176.7,"y":102.7},{"g":"t1","kind":"trace","x":213.3,"y":100.7},{"g":"t1","kind":"trace","x":271.7,"y":98.3},
{"g":"a1","kind":"axis","x":58.3,"y":109},{"g":"a1","kind":"axis","x":176.7,"y":102.7},
{"g":"t0","kind":"trace","x":24,"y":67.3},{"g":"t0","kind":"trace","x":30,"y":69.3},{"g":"t0","kind":"trace","x":31.7,"y":76.7},{"g":"t0","kind":"trace","x":35,"y":80},{"g":"t0","kind":"trace","x":40,"y":80},{"g":"t0","kind":"trace","x":42.7,"y":86.7},{"g":"t0","kind":"trace","x":45,"y":93.3},{"g":"t0","kind":"trace","x":47.3,"y":143.3},{"g":"t0","kind":"trace","x":49.3,"y":210},{"g":"t0","kind":"trace","x":51,"y":220.7},{"g":"t0","kind":"trace","x":52.7,"y":210},{"g":"t0","kind":"trace","x":55,"y":126.7},{"g":"t0","kind":"trace","x":57.3,"y":96.7},{"g":"t0","kind":"trace","x":60,"y":83.3},{"g":"t0","kind":"trace","x":64,"y":76.7},{"g":"t0","kind":"trace","x":68.3,"y":69.3},{"g":"t0","kind":"trace","x":80,"y":68.3},{"g":"t0","kind":"trace","x":90,"y":71.7},{"g":"t0","kind":"trace","x":98.3,"y":74},{"g":"t0","kind":"trace","x":103.3,"y":70},{"g":"t0","kind":"trace","x":111.7,"y":63.3},{"g":"t0","kind":"trace","x":131.7,"y":61.7},{"g":"t0","kind":"trace","x":171.7,"y":58.3},{"g":"t0","kind":"trace","x":226.7,"y":56},
{"g":"a0","kind":"axis","x":11.7,"y":67.3},{"g":"a0","kind":"axis","x":111.7,"y":63.3}
]},"mark":{"type":"line","fill":"#ffffff","strokeWidth":2.6,"strokeJoin":"miter"},"encoding":{"x":{"field":"x","type":"quantitative","scale":{"domain":[0,650],"range":[850,1500]},"axis":null},"y":{"field":"y","type":"quantitative","scale":{"domain":[0,590],"range":[950,360]},"axis":null},"detail":{"field":"g"},"stroke":{"field":"kind","type":"nominal","scale":{"domain":["trace","axis"],"range":["#000000","#999999"]},"legend":null}}},
{"data":{"values":[{"label":"0h","x":240,"y":52},{"label":"1:00h","x":282,"y":96},{"label":"1:30h","x":325,"y":139},{"label":"1:45h","x":368,"y":183},{"label":"2:00h","x":411,"y":227},{"label":"2:15h","x":454,"y":270},{"label":"2:30h","x":496,"y":313},{"label":"2:45h","x":539,"y":357},{"label":"3:00h","x":581,"y":400}]},"mark":{"type":"text","fontSize":26,"align":"left","baseline":"middle"},"encoding":{"x":{"field":"x","type":"quantitative","scale":{"domain":[0,650],"range":[850,1500]},"axis":null},"y":{"field":"y","type":"quantitative","scale":{"domain":[0,590],"range":[950,360]},"axis":null},"text":{"field":"label"}}},
{"data":{"values":[{"label":"2C","x":45,"y":47},{"label":"4C","x":93,"y":43}]},"mark":{"type":"text","fontSize":21,"fontWeight":"bold"},"encoding":{"x":{"field":"x","type":"quantitative","scale":{"domain":[0,650],"range":[850,1500]},"axis":null},"y":{"field":"y","type":"quantitative","scale":{"domain":[0,590],"range":[950,360]},"axis":null},"text":{"field":"label"}}},

{"data":{"values":[{"t":"kinase activity"}]},"mark":{"type":"rect","fill":"#f0f0f0","stroke":"#111","strokeWidth":3},"encoding":{"x":{"datum":0,"type":"quantitative","scale":{"domain":[0,1],"range":[151,655]},"axis":null},"x2":{"datum":1},"y":{"datum":0,"type":"quantitative","scale":{"domain":[0,1],"range":[1082,1137]},"axis":{"orient":"left","offset":-151,"title":"kinase activity","titleAngle":0,"titleAlign":"right","titleBaseline":"middle","titlePadding":6,"titleFontSize":23}},"y2":{"datum":1}}},
{"data":{"name":"bands"},"transform":[{"filter":"datum.track=='kinase'"}],"mark":{"type":"bar","fill":"#000","stroke":"#000","strokeWidth":2,"strokeOpacity":0.3,"cornerRadius":10},"encoding":{"x":{"field":"lane","type":"nominal","scale":{"domain":[1,2,3,4,5,6,7,8,9,10],"range":[151,655],"paddingInner":0.1,"paddingOuter":0.235},"axis":{"orient":"top","offset":-1082,"title":null,"labelAngle":-60,"labelOffset":-6,"labelFontSize":24,"labelPadding":8,"labelExpr":"['wild-type','CUP-CLB1','CUP-CLB3','CUP-CLB4','CUP-CLB5','wild-type','CUP-CLB1','CUP-CLB3','CUP-CLB4','CUP-CLB5'][datum.value-1]","labelFontStyle":{"condition":{"test":"datum.value==1||datum.value==6","value":"normal"},"value":"italic"}}},"y":{"field":"top","type":"quantitative","scale":{"domain":[0,1],"range":[1082,1137]},"axis":null},"y2":{"field":"bottom"},"opacity":{"field":"signal","type":"quantitative","scale":null}}},
{"data":{"values":[{"t":"Cdk1 IP"}]},"mark":{"type":"rect","fill":"#cfcfcf","stroke":"#111","strokeWidth":3},"encoding":{"x":{"datum":0,"type":"quantitative","scale":{"domain":[0,1],"range":[151,655]},"axis":null},"x2":{"datum":1},"y":{"datum":0,"type":"quantitative","scale":{"domain":[0,1],"range":[1151,1188]},"axis":{"orient":"left","offset":-151,"title":"Cdk1 IP","titleAngle":0,"titleAlign":"right","titleBaseline":"middle","titlePadding":6,"titleFontSize":23}},"y2":{"datum":1}}},
{"data":{"name":"bands"},"transform":[{"filter":"datum.track=='cdk1'"}],"mark":{"type":"bar","fill":"#000","stroke":"#000","strokeWidth":1.5,"strokeOpacity":0.3,"cornerRadius":4},"encoding":{"x":{"field":"lane","type":"nominal","scale":{"domain":[1,2,3,4,5,6,7,8,9,10],"range":[151,655],"paddingInner":0.1,"paddingOuter":0.235},"axis":null},"y":{"field":"top","type":"quantitative","scale":{"domain":[0,1],"range":[1151,1188]},"axis":null},"y2":{"field":"bottom"},"opacity":{"field":"signal","type":"quantitative","scale":null}}},
{"data":{"values":[{"stage":"prophase I","from":0.02,"to":4.89},{"stage":"metaphase I - anaphase I","from":5.09,"to":9.98}]},"mark":{"type":"rule","color":"#000","strokeWidth":2},"encoding":{"x":{"field":"from","type":"quantitative","scale":{"domain":[0,10],"range":[151,655]},"axis":null},"x2":{"field":"to"},"y":{"datum":0,"type":"quantitative","scale":{"domain":[0,1],"range":[1204,1205]},"axis":null}}},
{"data":{"values":[{"label":"prophase I","pos":2.45,"line":0},{"label":"metaphase I -","pos":7.55,"line":0},{"label":"anaphase I","pos":7.55,"line":1}]},"mark":{"type":"text","fontSize":23,"fontWeight":"bold"},"encoding":{"x":{"field":"pos","type":"quantitative","scale":{"domain":[0,10],"range":[151,655]},"axis":null},"y":{"field":"line","type":"quantitative","scale":{"domain":[0,1],"range":[1224,1252]},"axis":null},"text":{"field":"label"}}},

{"data":{"values":[{"genotype":"wild-type","series":"prophase I","activity":5},{"genotype":"wild-type","series":"metaphase I - anaphase I","activity":122},{"genotype":"CUP-CLB1","series":"prophase I","activity":44},{"genotype":"CUP-CLB1","series":"metaphase I - anaphase I","activity":176},{"genotype":"CUP-CLB3","series":"prophase I","activity":219},{"genotype":"CUP-CLB3","series":"metaphase I - anaphase I","activity":253},{"genotype":"CUP-CLB4","series":"prophase I","activity":86},{"genotype":"CUP-CLB4","series":"metaphase I - anaphase I","activity":181},{"genotype":"CUP-CLB5","series":"prophase I","activity":233},{"genotype":"CUP-CLB5","series":"metaphase I - anaphase I","activity":201}]},"mark":{"type":"bar","stroke":"#000","strokeWidth":1.5},"encoding":{"x":{"field":"genotype","type":"nominal","scale":{"domain":["wild-type","CUP-CLB1","CUP-CLB3","CUP-CLB4","CUP-CLB5"],"range":[875,1480],"paddingInner":0.36,"paddingOuter":0.18,"align":0.534},"axis":{"orient":"bottom","offset":-42,"title":null,"labels":true,"labelAngle":0,"labelFontSize":21,"labelPadding":8,"domain":true,"domainWidth":2.5,"ticks":true,"tickWidth":2.5,"tickSize":8,"labelFontStyle":{"condition":{"test":"datum.value=='wild-type'","value":"normal"},"value":"italic"}}},"xOffset":{"field":"series","type":"nominal","scale":{"domain":["prophase I","metaphase I - anaphase I"],"paddingInner":0.326,"paddingOuter":0}},"y":{"field":"activity","type":"quantitative","scale":{"domain":[0,300],"range":[1245,990]},"axis":{"orient":"left","offset":-875,"title":"specific activity (a.u.)","titleFontSize":24,"titlePadding":16,"labels":true,"labelFontSize":23,"domain":true,"domainWidth":2.5,"ticks":true,"tickWidth":2.5,"tickSize":10,"values":[0,100,200,300]}},"color":{"field":"series","type":"nominal","scale":{"domain":["prophase I","metaphase I - anaphase I"],"range":["#00538f","#bfbfbf"]},"legend":{"orient":"none","legendX":909,"legendY":960,"title":null,"labelFontSize":24.7,"labelColor":"#000","labelLimit":400,"symbolType":"M-1.28,-1H1.28V1H-1.28Z","symbolSize":625,"symbolStrokeColor":"#000","symbolStrokeWidth":1.5,"rowPadding":-3,"labelOffset":16}}}},

{"data":{"values":[{"panel":"A","px":0.002,"py":0.0295},{"panel":"B","px":0.3373,"py":0.0295},{"panel":"C","px":0.6407,"py":0.0295},{"panel":"D","px":0.0033,"py":0.3294},{"panel":"E","px":0.574,"py":0.3294},{"panel":"F","px":0.0033,"py":0.7677}]},"mark":{"type":"text","fontSize":42,"fontWeight":"bold","align":"left","baseline":"alphabetic"},"encoding":{"x":{"field":"px","type":"quantitative","scale":{"domain":[0,1],"range":[0,1500]},"axis":null},"y":{"field":"py","type":"quantitative","scale":{"domain":[0,1],"range":[0,1287]},"axis":null},"text":{"field":"panel"}}}
]}
